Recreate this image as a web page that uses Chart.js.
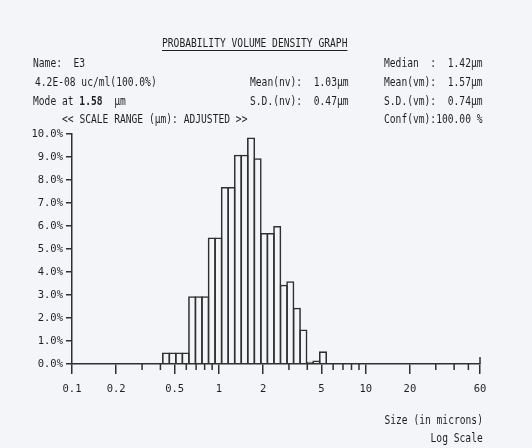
<!DOCTYPE html>
<html>
<head>
<meta charset="utf-8">
<script src="https://cdn.jsdelivr.net/npm/chart.js@4"></script>
<style>
  html, body { margin: 0; padding: 0; background: #f4f5f8; }
  #wrap { position: relative; width: 532px; height: 448px; overflow: hidden; }
  canvas { position: absolute; left: 0; top: 0; }
  .t {
    position: absolute; font-family: 'DejaVu Sans Mono', monospace; font-size: 12.5px;
    line-height: 12px; color: #1f1f1f; white-space: pre;
    transform: scaleX(0.77); transform-origin: 0 50%;
  }
  .r { transform-origin: 100% 50%; text-align: right; }
</style>
</head>
<body>
<div id="wrap">
  <canvas id="psd" width="532" height="448"></canvas>

  <div class="t" style="left:162px;top:37px;text-decoration:underline;text-underline-offset:3px">PROBABILITY VOLUME DENSITY GRAPH</div>
  <div class="t" style="left:33px;top:57px">Name:  E3</div>
  <div class="t" style="left:35px;top:76px">4.2E-08 uc/ml(100.0%)</div>
  <div class="t" style="left:33px;top:95px">Mode at <b>1.58</b>  μm</div>
  <div class="t" style="left:62px;top:113px">&lt;&lt; SCALE RANGE (μm): ADJUSTED &gt;&gt;</div>

  <div class="t" style="left:250px;top:76px">Mean(nv):  1.03μm</div>
  <div class="t" style="left:250px;top:95px">S.D.(nv):  0.47μm</div>

  <div class="t" style="left:384px;top:57px">Median  :  1.42μm</div>
  <div class="t" style="left:384px;top:76px">Mean(vm):  1.57μm</div>
  <div class="t" style="left:384px;top:95px">S.D.(vm):  0.74μm</div>
  <div class="t" style="left:384px;top:113px">Conf(vm):100.00 %</div>

  <div class="t r" style="right:49px;top:414px">Size (in microns)</div>
  <div class="t r" style="right:49px;top:432px">Log Scale</div>
</div>

<script>
// particle size channels (um, channel centres) and volume % per channel
const binSizes = [0.437, 0.484, 0.536, 0.594, 0.658, 0.729, 0.808, 0.895, 0.992, 1.099,
                  1.218, 1.349, 1.495, 1.657, 1.836, 2.034, 2.253, 2.497, 2.766, 3.065,
                  3.396, 3.763, 4.169, 4.619, 5.118];
const volumePct = [0.5, 0.5, 0.5, 0.5, 2.95, 2.95, 2.95, 5.5, 5.5, 7.7,
                   7.7, 9.1, 9.1, 9.85, 8.95, 5.7, 5.7, 6.0, 3.45, 3.6,
                   2.45, 1.5, 0.1, 0.15, 0.55];

const sizeTicks = [0.1, 0.2, 0.5, 1, 2, 5, 10, 20, 60];
const minorSizeTicks = [0.3, 0.4, 0.6, 0.7, 0.8, 0.9, 3, 4, 6, 7, 8, 9, 30, 40, 50];
const pctTicks = [0, 1, 2, 3, 4, 5, 6, 7, 8, 9, 10];

const ink = '#303030';
const tickFont = { family: "'DejaVu Sans Mono', monospace", size: 10.5 };

// short log ticks under the size axis
const minorTicks = {
  id: 'minorTicks',
  afterDraw(chart) {
    const ctx = chart.ctx;
    const x = chart.scales.x;
    const y0 = x.top;
    ctx.save();
    ctx.strokeStyle = ink;
    ctx.lineWidth = 1.5;
    ctx.beginPath();
    minorSizeTicks.forEach(v => {
      const px = x.getPixelForValue(v);
      ctx.moveTo(px, y0);
      ctx.lineTo(px, y0 + 6);
    });
    const pe = x.getPixelForValue(sizeTicks[sizeTicks.length - 1]);
    ctx.moveTo(pe, y0);
    ctx.lineTo(pe, y0 - 7);
    ctx.stroke();
    ctx.restore();
  }
};

new Chart(document.getElementById('psd'), {
  type: 'bar',
  data: {
    datasets: [{
      data: binSizes.map((s, i) => ({ x: s, y: volumePct[i] })),
      backgroundColor: 'rgba(0,0,0,0)',
      borderColor: ink,
      borderWidth: 1.6,
      borderSkipped: 'bottom',
      barPercentage: 1.245,
      categoryPercentage: 1
    }]
  },
  options: {
    responsive: false,
    animation: false,
    layout: { padding: { top: 134, right: 52, left: 0, bottom: 0 } },
    plugins: { legend: { display: false }, tooltip: { enabled: false } },
    scales: {
      x: {
        type: 'logarithmic',
        min: 0.1,
        max: 60,
        offset: false,
        afterBuildTicks: s => { s.ticks = sizeTicks.map(v => ({ value: v })); },
        afterFit: s => { s.height = 84; },
        grid: { offset: false, drawOnChartArea: false, drawTicks: true, tickLength: 10, color: ink, lineWidth: 1.5 },
        border: { color: ink, width: 1.5 },
        ticks: {
          callback: v => String(v),
          font: tickFont, color: '#1f1f1f', padding: 9,
          maxRotation: 0, autoSkip: false
        }
      },
      y: {
        min: 0,
        max: 10,
        afterBuildTicks: s => { s.ticks = pctTicks.map(v => ({ value: v })); },
        afterFit: s => { s.width = 72; },
        grid: { drawOnChartArea: false, drawTicks: true, tickLength: 6, color: ink, lineWidth: 1.5 },
        border: { color: ink, width: 1.5 },
        ticks: {
          callback: v => v.toFixed(1) + '%',
          font: tickFont, color: '#1f1f1f', padding: 3
        }
      }
    }
  },
  plugins: [minorTicks]
});
</script>
</body>
</html>
